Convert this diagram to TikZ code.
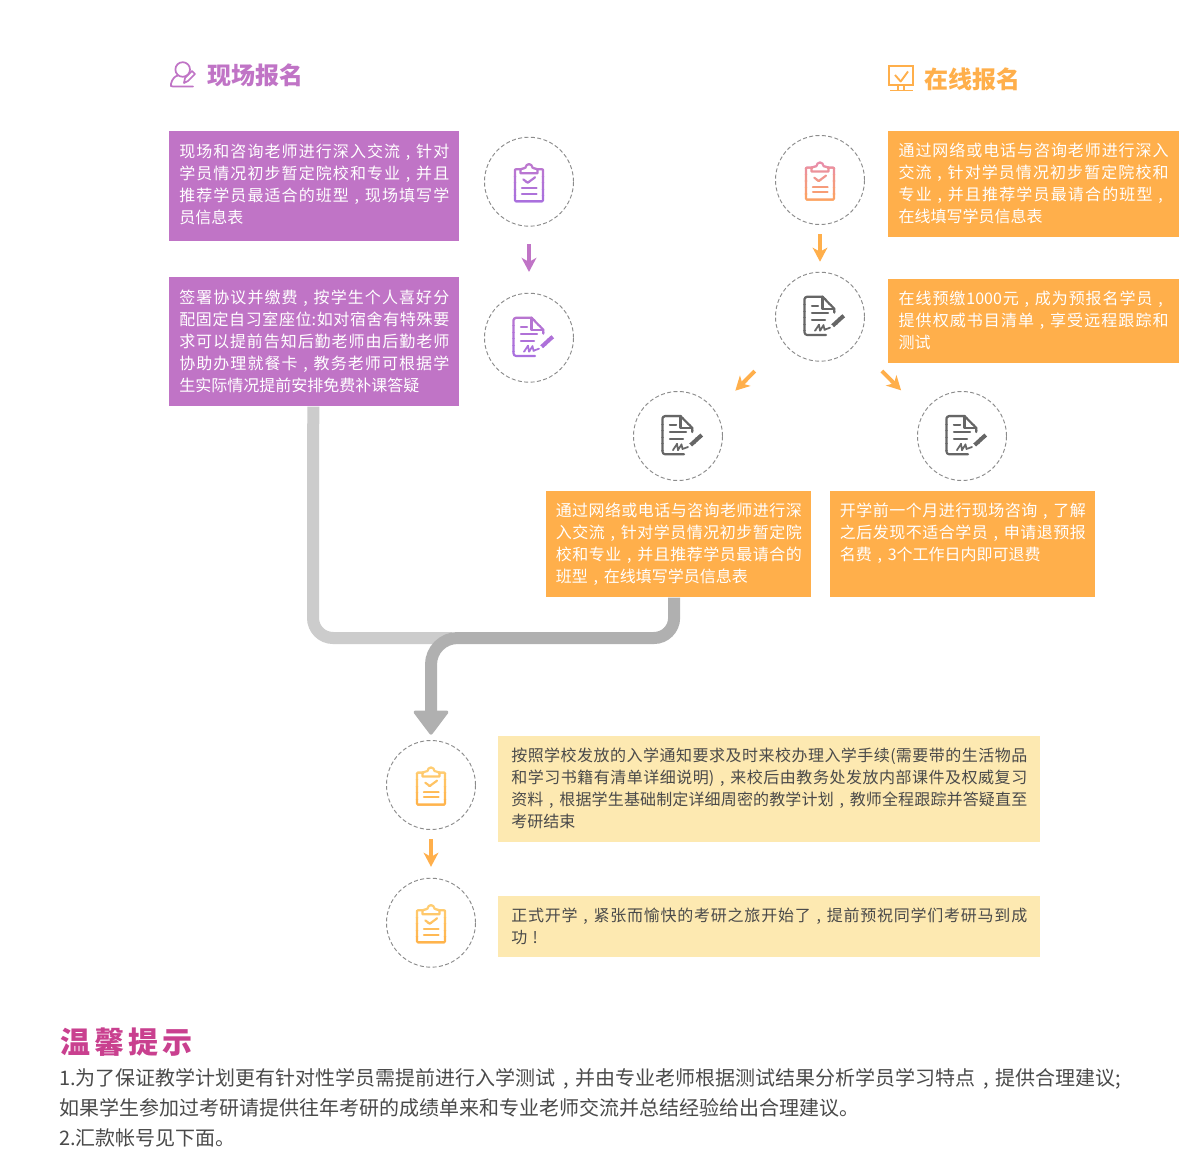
\documentclass[tikz,border=0pt]{standalone}
\usepackage{fontspec}
\setmainfont{Noto Sans CJK SC}
\usetikzlibrary{arrows.meta,calc}
\XeTeXlinebreaklocale "zh"
\XeTeXlinebreakskip=0pt plus 2pt
\definecolor{cpur}{HTML}{C074C6}
\definecolor{cora}{HTML}{FFAF4B}
\definecolor{ccre}{HTML}{FDE9B1}
\definecolor{ctxt}{HTML}{4A4A4A}
\definecolor{cpk}{HTML}{C9408F}
\definecolor{ipa}{HTML}{C079CC}
\definecolor{ipb}{HTML}{A66FE0}
\definecolor{ipc}{HTML}{B875D0}
\definecolor{igr}{HTML}{666666}
\definecolor{ira}{HTML}{E58AB5}
\definecolor{irb}{HTML}{FFA55A}
\definecolor{iya}{HTML}{FFD27A}
\definecolor{iyb}{HTML}{FFAF45}
\newcommand\zc{\makebox[1em][c]{,}}
\newcommand\zx{\makebox[1em][c]{!}}
\newcommand\upby[1]{\par\vskip #1\hrule height 0pt\relax}
\tikzset{
  box/.style={anchor=north west,inner sep=0pt,align=justify,text=white,execute at begin node=\sloppy},
  purplebox/.style={box,fill=cpur,font=\fontsize{12}{16.5}\selectfont},
  orangebox/.style={box,fill=cora,font=\fontsize{12}{16.5}\selectfont},
  creambox/.style={box,fill=ccre,text=ctxt,font=\fontsize{12}{16.5}\selectfont},
  ring/.style={circle,draw=black!45,line width=0.7pt,dash pattern=on 3pt off 1.8pt,minimum size=66.75pt,inner sep=0pt},
  smallarrow/.style={line width=3pt,-{Stealth[length=10.5pt,width=11pt,inset=3pt]}},
  pipe/.style={line width=9pt},
  title/.style={font=\fontsize{18}{20}\selectfont\bfseries,inner sep=0pt,anchor=west},
  icline/.style={line width=1.6pt,line join=round,line cap=round}
}
\newcommand\drawclipboard{%
  \draw[icline,ic,rounded corners=0.6pt] (-7.5,-12.5) -- (-14,-12.5) -- (-14,19.5) -- (14,19.5) -- (14,-12.5) -- (7.5,-12.5);
  \draw[icline,ic] (-8.5,-8.5) -- (-8.5,-12.5) -- (-3.5,-14) arc (180:360:3.5) -- (8.5,-12.5) -- (8.5,-8.5) -- cycle;
  \draw[icline,ic] (-5.7,-2.3) -- (-1.3,1) -- (6,-4.3);
  \draw[icline,ic] (-7,6.7) -- (7.5,6.7);
  \draw[icline,ic] (-7,12.3) -- (7.5,12.3);
}
\newcommand\drawsign{%
  \draw[icline,ic,rounded corners=2pt] (2.5,-20) -- (-15.5,-20) -- (-15.5,18.3) -- (6,18.3);
  \draw[icline,ic] (2.5,-20) -- (14.3,-8) -- (14.3,-4);
  \draw[icline,ic] (2.5,-20) -- (2.5,-8) -- (14.3,-8);
  \draw[icline,ic] (-8,-11) -- (-2,-11);
  \draw[icline,ic] (-8,-4) -- (8,-4);
  \draw[icline,ic] (-8,3) -- (5,3);
  \draw[line width=1.3pt,ic,line cap=round,line join=round] (-5,14) -- (-1,8) -- (0,14) -- (3.5,8.5) -- (4.5,13) -- (10,11);
  \draw[ic,line width=3pt] (12.7,9) -- (23.7,-1);
}
\newcommand\gradicon[4]{% node, drawing, top colour, bottom colour
  \foreach \i in {0,...,7}{
    \pgfmathsetmacro\pc{100-\i*100/7}
    \colorlet{ic}{#3!\pc!#4}
    \begin{scope}[shift={(#1.center)}]
      \clip (-32,-25+\i*6.5) rectangle (32,-25+\i*6.5+6.7);
      #2
    \end{scope}
  }
}
\begin{document}
\begin{tikzpicture}[x=0.75pt,y=-0.75pt]
\useasboundingbox (0,0) rectangle (1200,1173);
\fill[white] (0,0) rectangle (1200,1173);

% titles
\node[title,text=cpur] (t1) at (207,75) {现场报名};
\node[title,text=cora] (t2) at (924,79) {在线报名};
% person icon
\draw[cpur,line width=1.3pt,line cap=round,line join=round] (182.7,69.5) circle (7.3);
\draw[cpur,line width=1.3pt,line cap=round,line join=round] (171,84) .. controls (172,79) and (175,76) .. (178,75.5);
\draw[cpur,line width=1.3pt,line cap=round,line join=round] (171,84) .. controls (170,86) and (171,86.5) .. (173,86.5) -- (193,86.5);
\draw[cpur,line width=1.3pt,line join=round] (184,83) -- (185,78) -- (192,71) -- (195,74) -- (188,81) -- cycle;
% monitor icon
\draw[cora,line width=1.4pt] (889,66) rectangle (913,85);
\draw[cora,line width=1.4pt,line join=round] (895,75) -- (900.7,81.5) -- (908,71.5);
\draw[cora,line width=1.4pt] (898,85) -- (898,90) (904,85) -- (904,90) (890,90.5) -- (912.5,90.5);

% boxes
\node[purplebox,minimum width=217.5pt,minimum height=82.5pt,text width=202.5pt] (b1) at (169,130.7) {现场和咨询老师进行深入交流\zc 针对\linebreak 学员情况初步暂定院校和专业\zc 并且\linebreak 推荐学员最适合的班型\zc 现场填写学\linebreak 员信息表\upby{3pt}};
\node[purplebox,minimum width=217.5pt,minimum height=96.75pt,text width=202.5pt] (b2) at (169,277) {签署协议并缴费\zc 按学生个人喜好分\linebreak 配固定自习室座位:如对宿舍有特殊要\linebreak 求可以提前告知后勤老师由后勤老师\linebreak 协助办理就餐卡\zc 教务老师可根据学\linebreak 生实际情况提前安排免费补课答疑};
\node[orangebox,minimum width=218pt,minimum height=79.5pt,text width=202.5pt] (o1) at (888,130.7) {通过网络或电话与咨询老师进行深入\linebreak 交流\zc 针对学员情况初步暂定院校和\linebreak 专业\zc 并且推荐学员最请合的班型\zc\linebreak 在线填写学员信息表\upby{1.5pt}};
\node[orangebox,minimum width=218pt,minimum height=63pt,text width=202.5pt] (o2) at (888,279) {在线预缴1000元\zc 成为预报名学员\zc\linebreak 提供权威书目清单\zc 享受远程跟踪和\linebreak 测试\upby{1.5pt}};
\node[orangebox,minimum width=198.75pt,minimum height=79.5pt,text width=184.5pt] (o3) at (546,491) {通过网络或电话与咨询老师进行深\linebreak 入交流\zc 针对学员情况初步暂定院\linebreak 校和专业\zc 并且推荐学员最请合的\linebreak 班型\zc 在线填写学员信息表};
\node[orangebox,minimum width=198.75pt,minimum height=79.5pt,text width=184.5pt] (o4) at (830,491) {开学前一个月进行现场咨询\zc 了解\linebreak 之后发现不适合学员\zc 申请退预报\linebreak 名费\zc 3个工作日内即可退费\par\mbox{}\upby{3pt}};
\node[creambox,minimum width=406.5pt,minimum height=79.25pt,text width=387pt] (y1) at (498,736) {按照学校发放的入学通知要求及时来校办理入学手续(需要带的生活物品\linebreak 和学习书籍有清单详细说明)\zc 来校后由教务处发放内部课件及权威复习\linebreak 资料\zc 根据学生基础制定详细周密的教学计划\zc 教师全程跟踪并答疑直至\linebreak 考研结束\upby{1.5pt}};
\node[creambox,minimum width=406.5pt,minimum height=45.75pt,text width=387pt] (y2) at (498,896) {正式开学\zc 紧张而愉快的考研之旅开始了\zc 提前预祝同学们考研马到成\linebreak 功\zx};

% rings
\node[ring] (c1) at (529,181.7) {};
\node[ring] (c2) at (529,337.7) {};
\node[ring] (c3) at (820,180) {};
\node[ring] (c4) at (820,316.7) {};
\node[ring] (c5) at (678,436) {};
\node[ring] (c6) at (962,436) {};
\node[ring] (c7) at (431,785) {};
\node[ring] (c8) at (431,922.7) {};

% icons
\gradicon{c1}{\drawclipboard}{ipa}{ipb}
\gradicon{c2}{\drawsign}{ipc}{ipb}
\gradicon{c3}{\drawclipboard}{ira}{irb}
\gradicon{c4}{\drawsign}{igr}{igr}
\gradicon{c5}{\drawsign}{igr}{igr}
\gradicon{c6}{\drawsign}{igr}{igr}
\gradicon{c7}{\drawclipboard}{iya}{iyb}
\gradicon{c8}{\drawclipboard}{iya}{iyb}

% small arrows
\draw[smallarrow,cpur,shorten <=13.2pt,shorten >=15.6pt] (c1.south) -- (c2.north);
\draw[smallarrow,cora,shorten <=7.1pt,shorten >=7.5pt] (c3.south) -- (c4.north);
\draw[smallarrow,cora,shorten <=30.2pt,shorten >=21.3pt] (c4.215) -- (c5.34);
\draw[smallarrow,cora,shorten <=28.1pt,shorten >=23.8pt] (c4.-38.3) -- (c6.149.4);
\draw[smallarrow,cora,shorten <=7.1pt,shorten >=8.2pt] (c7.south) -- (c8.north);

% pipes
\coordinate (pj) at (431,638);
\coordinate (pk) at (452,638);
\draw[pipe,color=black!20,rounded corners=15pt] ([xshift=-0.75pt]b2.south) -- (313,638) -- (pk);
\draw[pipe,color=black!31,rounded corners=15pt,-{Triangle[width=28pt,length=19pt,line width=2.5pt,round]},shorten >=4pt]
  ([xshift=-3.4pt]o3.south) -- (674,638) [rounded corners=20pt] -- (pj) -- (c7.north);

% footer
\node[anchor=west,inner sep=0pt,text=cpk,font=\fontsize{22.5}{26}\selectfont\bfseries] (ft) at (60,1042) {温\hspace{3pt}馨\hspace{3pt}提\hspace{3pt}示};
\node[anchor=north west,inner sep=0pt,align=left,text=ctxt,font=\fontsize{15}{22.5}\selectfont] (fn) at (59,1068.5) {1.为了保证教学计划更有针对性学员需提前进行入学测试\zc 并由专业老师根据测试结果分析学员学习特点\zc 提供合理建议;\\如果学生参加过考研请提供往年考研的成绩单来和专业老师交流并总结经验给出合理建议。\\2.汇款帐号见下面。};
\end{tikzpicture}
\end{document}
